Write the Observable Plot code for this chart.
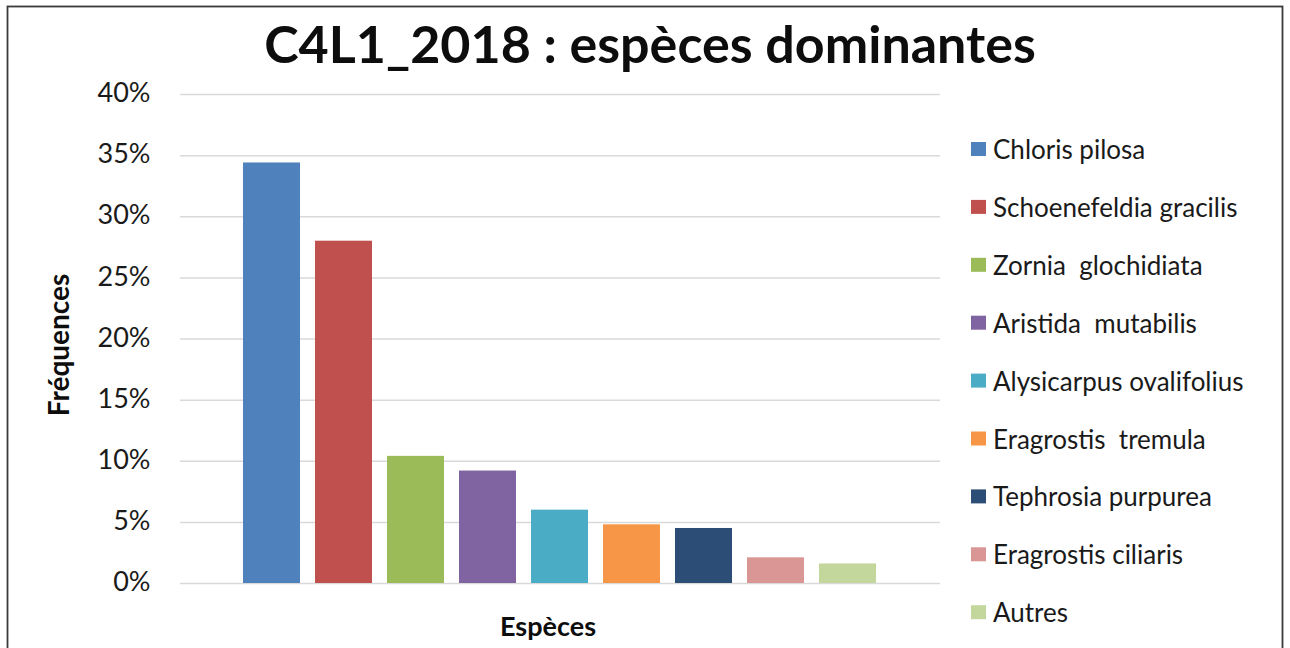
<!DOCTYPE html>
<html>
<head>
<meta charset="utf-8">
<script src="https://cdn.jsdelivr.net/npm/d3@7"></script>
<script src="https://cdn.jsdelivr.net/npm/@observablehq/plot@0.6"></script>
<style>
  html, body { margin: 0; padding: 0; background: #ffffff; }
  #wrap { position: relative; width: 1290px; height: 648px; overflow: hidden; font-family: Lato, "Open Sans", sans-serif; }
  #chart, #overlay { position: absolute; left: 0; top: 0; }
  #overlay { pointer-events: none; }
  #overlay text { white-space: pre; }
</style>
</head>
<body>
<div id="wrap">
  <div id="chart"></div>
  <svg id="overlay" width="1290" height="648"></svg>
</div>
<script>
// ---- Data ----
const titleText = "C4L1_2018 : espèces dominantes";
const xTitle = "Espèces";
const yTitle = "Fréquences";
const species = [
  "Chloris pilosa",
  "Schoenefeldia gracilis",
  "Zornia  glochidiata",
  "Aristida  mutabilis",
  "Alysicarpus ovalifolius",
  "Eragrostis  tremula",
  "Tephrosia purpurea",
  "Eragrostis ciliaris",
  "Autres"
];
const frequences = [34.4, 28.0, 10.4, 9.2, 6.0, 4.8, 4.5, 2.1, 1.6]; // percent
const colors = ["#4F81BD", "#C0504D", "#9BBB59", "#8064A2", "#4BACC6", "#F79646", "#2C4D75", "#D99694", "#C3D69B"];
const yTicks = [0, 5, 10, 15, 20, 25, 30, 35, 40];

const data = species.map((s, i) => ({ espece: s, freq: frequences[i] }));

const chart = Plot.plot({
  width: 1290,
  height: 648,
  marginLeft: 180,
  marginRight: 350,
  marginTop: 94,
  marginBottom: 65,
  style: { fontFamily: "Lato, 'Open Sans', sans-serif", color: "#1a1a1a", background: "transparent" },
  x: { domain: species, range: [227, 892], padding: 0.21, axis: null },
  y: { domain: [0, 40] },
  color: { domain: species, range: colors },
  marks: [
    Plot.gridY(yTicks, { stroke: "#d9d9d9", strokeOpacity: 1, strokeWidth: 1.5 }),
    Plot.axisY(yTicks, { tickSize: 0, tickPadding: 30, tickFormat: d => d + "%", fontSize: 27, dy: -1, label: null }),
    Plot.barY(data, { x: "espece", y: "freq", fill: "espece" })
  ]
});
document.getElementById("chart").appendChild(chart);

// ---- Title, axis titles, legend and frame ----
const svg = d3.select("#overlay");
const color = chart.scale("color");

svg.append("rect")
  .attr("x", 7.5).attr("y", 6.5).attr("width", 1275).attr("height", 700)
  .attr("fill", "none").attr("stroke", "#3a3a3a").attr("stroke-width", 1.8);

svg.append("text")
  .attr("x", 650).attr("y", 63)
  .attr("text-anchor", "middle")
  .attr("font-size", 52).attr("font-weight", "bold").attr("fill", "#0d0d0d")
  .text(titleText);

svg.append("text")
  .attr("x", 548).attr("y", 636)
  .attr("text-anchor", "middle")
  .attr("font-size", 27).attr("font-weight", "bold").attr("fill", "#0d0d0d")
  .text(xTitle);

svg.append("text")
  .attr("transform", "translate(69,345) rotate(-90)")
  .attr("text-anchor", "middle")
  .attr("font-size", 28).attr("font-weight", "bold").attr("fill", "#0d0d0d")
  .text(yTitle);

const legend = svg.append("g");
species.forEach((s, i) => {
  const cy = 149 + i * 57.9;
  legend.append("rect")
    .attr("x", 971).attr("y", cy - 7).attr("width", 15).attr("height", 14)
    .attr("fill", color.apply(s));
  legend.append("text")
    .attr("x", 993).attr("y", cy + 10)
    .attr("font-size", 26).attr("fill", "#1a1a1a")
    .text(s);
});
</script>
</body>
</html>
